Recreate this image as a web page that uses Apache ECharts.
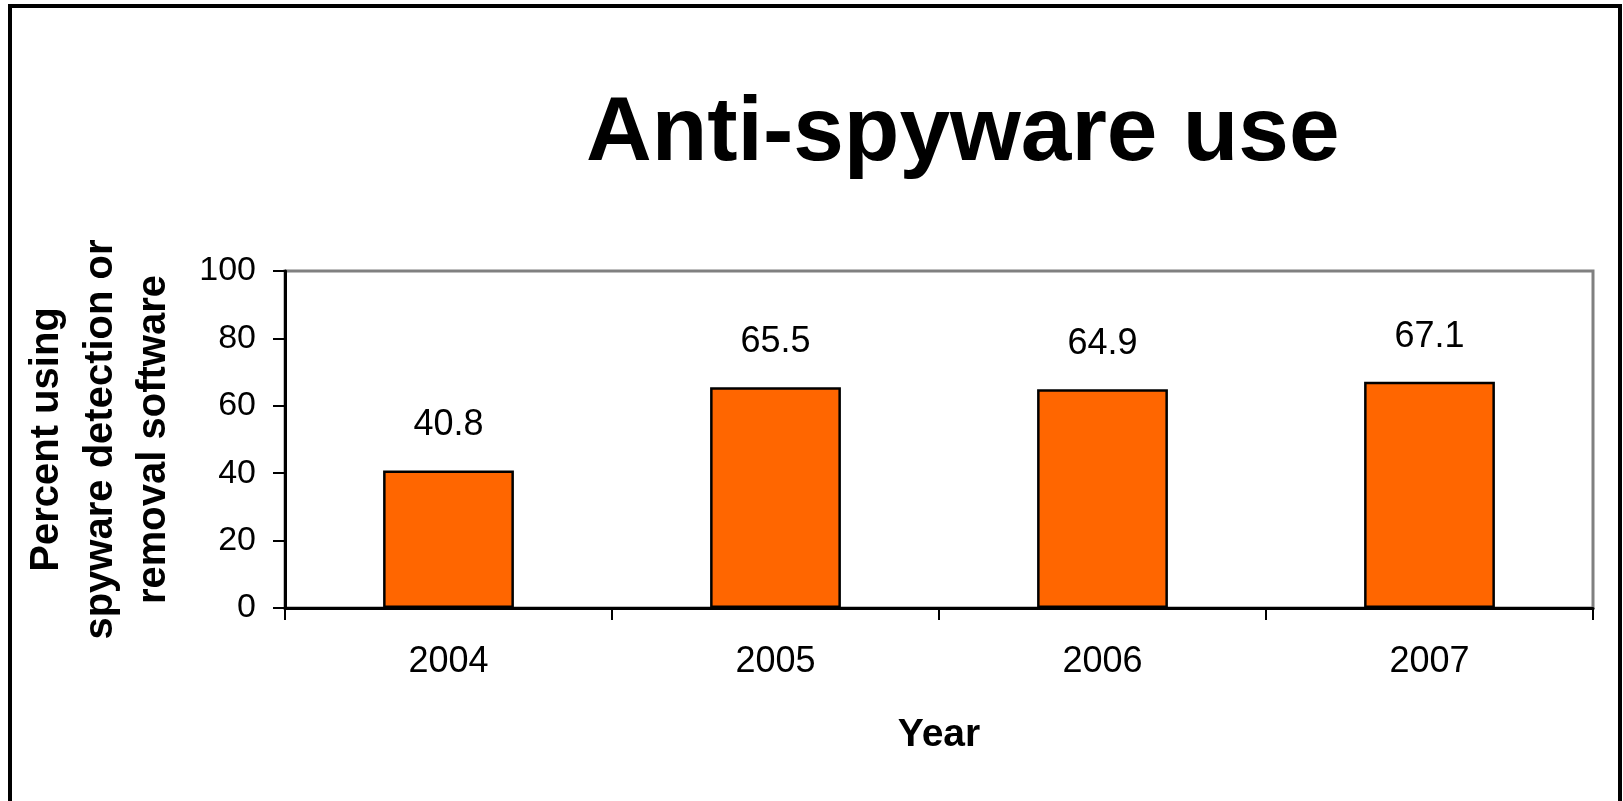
<!DOCTYPE html>
<html>
<head>
<meta charset="utf-8">
<script src="https://cdn.jsdelivr.net/npm/echarts@6/dist/echarts.min.js"></script>
<style>
html,body{margin:0;padding:0;background:#fff;}
#chart{width:1623px;height:801px;}
</style>
</head>
<body>
<div id="chart"></div>
<script>
const titleText = 'Anti-spyware use';
const categories = ['2004', '2005', '2006', '2007'];
const values = [40.8, 65.5, 64.9, 67.1];
const yAxisName = 'Percent using\nspyware detection or\nremoval software';
const xAxisName = 'Year';

const FONT = '"Liberation Sans", Arial, sans-serif';
const chart = echarts.init(document.getElementById('chart'), null, {renderer: 'canvas'});
chart.setOption({
  backgroundColor: '#ffffff',
  animation: false,
  title: {
    text: titleText,
    left: 586,
    top: 89,
    padding: 0,
    textStyle: {fontFamily: FONT, fontSize: 91, fontWeight: 'bold', color: '#000'}
  },
  graphic: [{
    type: 'rect',
    shape: {x: 10, y: 6, width: 1610, height: 1000},
    style: {fill: 'none', stroke: '#000', lineWidth: 4},
    silent: true,
    z: 100
  }],
  grid: {
    left: 285, right: 30, top: 271, bottom: 193,
    show: true, borderColor: '#808080', borderWidth: 3, backgroundColor: 'transparent'
  },
  xAxis: {
    type: 'category',
    data: categories,
    name: xAxisName,
    nameLocation: 'middle',
    nameGap: 108,
    nameTextStyle: {fontFamily: FONT, fontSize: 39, fontWeight: 'bold', color: '#000'},
    axisLine: {show: true, lineStyle: {color: '#000', width: 3}},
    axisTick: {show: true, length: 12, lineStyle: {color: '#000', width: 2}},
    axisLabel: {fontFamily: FONT, fontSize: 36, color: '#000', margin: 36},
    splitLine: {show: false}
  },
  yAxis: {
    type: 'value',
    min: 0, max: 100, interval: 20,
    name: yAxisName,
    nameLocation: 'middle',
    nameGap: 104,
    nameTextStyle: {fontFamily: FONT, fontSize: 40, fontWeight: 'bold', color: '#000', lineHeight: 53.5, align: 'center'},
    axisLine: {show: true, lineStyle: {color: '#000', width: 3}},
    axisTick: {show: true, length: 12, lineStyle: {color: '#000', width: 2}},
    axisLabel: {fontFamily: FONT, fontSize: 34, color: '#000', margin: 29},
    splitLine: {show: false}
  },
  series: [{
    type: 'bar',
    data: values,
    barWidth: '40%',
    itemStyle: {color: '#FF6600', borderColor: '#000', borderWidth: 2.5},
    label: {show: true, position: 'top', distance: 27, fontFamily: FONT, fontSize: 36, color: '#000'}
  }]
});
</script>
</body>
</html>
